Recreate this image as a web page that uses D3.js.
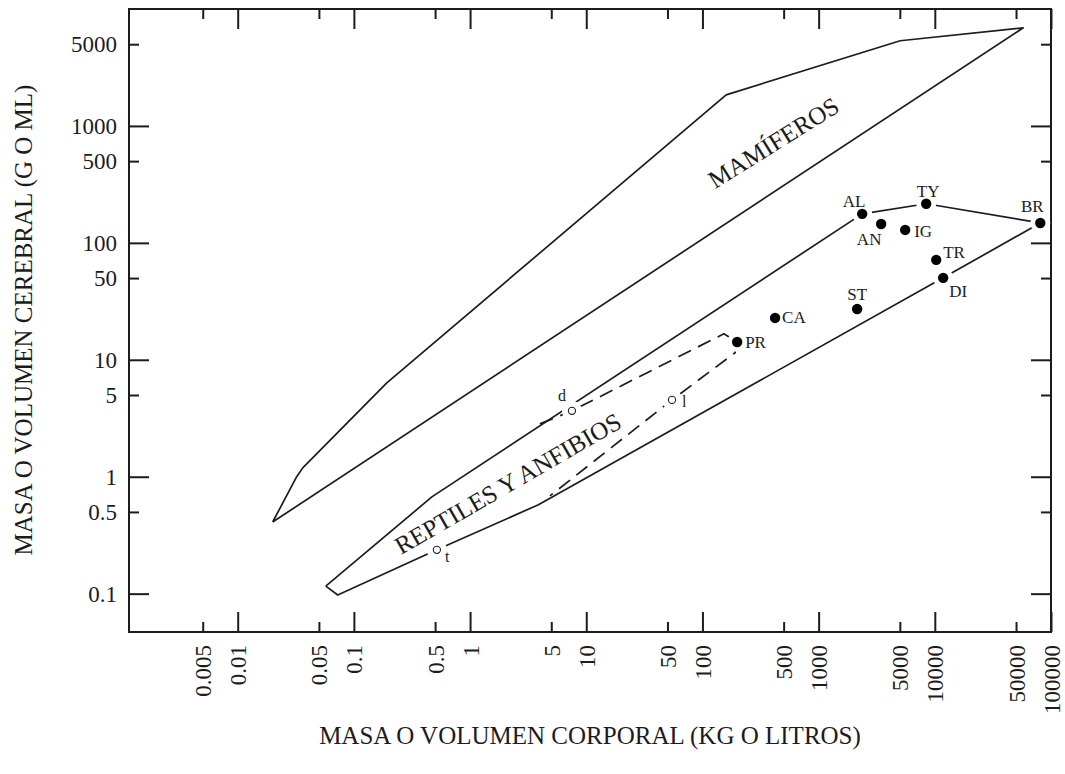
<!DOCTYPE html>
<html>
<head>
<meta charset="utf-8">
<script src="https://cdn.jsdelivr.net/npm/d3@7"></script>
<style>
  body { margin: 0; background: #fff; }
  svg { display: block; font-family: "Liberation Serif", "Times New Roman", serif; }
</style>
</head>
<body>
<svg id="chart" width="1065" height="774"></svg>
<script>
// Brain mass vs body mass, log-log - redrawn with D3

// 1) Data

// axis ticks (values and their labels)
var xTicks = [0.005, 0.01, 0.05, 0.1, 0.5, 1, 5, 10, 50, 100, 500, 1000, 5000, 10000, 50000, 100000];
var xTickLabels = ["0.005", "0.01", "0.05", "0.1", "0.5", "1", "5", "10", "50", "100", "500", "1000", "5000", "10000", "50000", "100000"];
var yTicks = [0.1, 0.5, 1, 5, 10, 50, 100, 500, 1000, 5000];
var yTickLabels = ["0.1", "0.5", "1", "5", "10", "50", "100", "500", "1000", "5000"];

// mammal envelope (body kg, brain g)
var mammalBody  = [0.02, 0.0322, 0.0363, 0.192, 160, 5035, 57700, 0.02];
var mammalBrain = [0.41, 1.0, 1.19, 6.35, 1845, 5350, 6900, 0.41];

// reptiles & amphibians envelope (solid)
var reptileBody  = [0.0573, 0.469, 2371, 8430, 80900, 11800, 3.84, 0.518, 0.0726, 0.0573];
var reptileBrain = [0.116, 0.672, 177, 216, 148, 50.2, 0.574, 0.237, 0.0975, 0.116];

// dashed envelope (inner)
var dashBody  = [3.99, 7.53, 153, 199, 191, 54.7, 4.87];
var dashBrain = [2.83, 3.66, 16.7, 14.2, 11.5, 4.54, 0.686];

// dinosaurs (filled) and living reptiles (open)
var dinoNames = ["AL", "TY", "BR", "AN", "IG", "TR", "DI", "ST", "CA", "PR"];
var dinoBody  = [2371, 8430, 80900, 3452, 5560, 10280, 11800, 2146, 422, 199];
var dinoBrain = [177, 216, 148, 145, 129, 71.6, 50.2, 27.2, 22.8, 14.2];

var livingNames = ["d", "l", "t"];
var livingBody  = [7.53, 54.7, 0.518];
var livingBrain = [3.66, 4.54, 0.237];


// 2) Scales and frame

var svg = d3.select("#chart");
var ink = "#1c1c1c";

var plotL = 129, plotR = 1051, plotT = 9, plotB = 632;

var x = d3.scaleLog().domain([0.00116, 100000]).range([plotL, plotR]);
var y = d3.scaleLog().domain([0.047, 10000]).range([plotB, plotT]);

var isMajor = function (d) {
   var l = Math.log10(d);
   return Math.abs(l - Math.round(l)) < 1e-9;
};

// frame
svg.append("rect")
   .attr("x", plotL).attr("y", plotT)
   .attr("width", plotR - plotL).attr("height", plotB - plotT)
   .attr("fill", "none").attr("stroke", ink).attr("stroke-width", 2);

// draw one side of ticks, ticks point inward, minor ones are half as long
var drawAxis = function (axisFn, scale, values, labels, pos, attrName, sign) {
   var g = svg.append("g")
      .attr("transform", pos)
      .call(axisFn(scale)
         .tickValues(values)
         .tickSizeInner(-20)
         .tickSizeOuter(0)
         .tickPadding(12)
         .tickFormat(function (d) { return labels ? labels[values.indexOf(d)] : ""; }));
   g.select(".domain").remove();
   g.selectAll(".tick line")
      .attr("stroke", ink).attr("stroke-width", 2)
      .attr(attrName, function (d) { return sign * (isMajor(d) ? 20 : 10); });
   g.attr("font-family", null).attr("font-size", 23);
   g.selectAll(".tick text").attr("fill", ink);
   return g;
};

var bottomAxis = drawAxis(d3.axisBottom, x, xTicks, xTickLabels, "translate(0," + plotB + ")", "y2", -1);
drawAxis(d3.axisTop, x, xTicks, null, "translate(0," + plotT + ")", "y2", 1);
drawAxis(d3.axisLeft, y, yTicks, yTickLabels, "translate(" + plotL + ",0)", "x2", 1);
drawAxis(d3.axisRight, y, yTicks, null, "translate(" + plotR + ",0)", "x2", -1);

// x labels stand upright
bottomAxis.selectAll(".tick text")
   .attr("transform", "rotate(-90)")
   .attr("text-anchor", "end")
   .attr("x", -13).attr("y", 0)
   .attr("dy", "0.35em");

// axis titles
svg.append("text")
   .attr("transform", "translate(32,320) rotate(-90)")
   .attr("text-anchor", "middle")
   .attr("font-size", 25).attr("fill", ink)
   .text("MASA O VOLUMEN CEREBRAL (G O ML)");

svg.append("text")
   .attr("x", 590).attr("y", 744)
   .attr("text-anchor", "middle")
   .attr("font-size", 25).attr("fill", ink)
   .text("MASA O VOLUMEN CORPORAL (KG O LITROS)");


// 3) Envelopes

var line = d3.line()
   .x(function (d) { return x(d[0]); })
   .y(function (d) { return y(d[1]); });

var zip = function (a, b) { return a.map(function (v, i) { return [v, b[i]]; }); };

svg.append("path")
   .attr("d", line(zip(mammalBody, mammalBrain)))
   .attr("fill", "none").attr("stroke", ink).attr("stroke-width", 1.7)
   .attr("stroke-linejoin", "round");

svg.append("path")
   .attr("d", line(zip(reptileBody, reptileBrain)))
   .attr("fill", "none").attr("stroke", ink).attr("stroke-width", 1.7)
   .attr("stroke-linejoin", "round");

svg.append("path")
   .attr("d", line(zip(dashBody, dashBrain)))
   .attr("fill", "none").attr("stroke", ink).attr("stroke-width", 1.7)
   .attr("stroke-dasharray", "14,8");

// region names
svg.append("text")
   .attr("transform", "translate(" + x(447) + "," + y(623) + ") rotate(-32)")
   .attr("text-anchor", "middle")
   .attr("font-size", 25).attr("fill", ink)
   .text("MAMÍFEROS");

svg.append("text")
   .attr("transform", "translate(" + x(2.3) + "," + y(0.755) + ") rotate(-30)")
   .attr("text-anchor", "middle")
   .attr("font-size", 25).attr("fill", ink)
   .text("REPTILES Y ANFIBIOS");


// 4) Points

var dinos = dinoNames.map(function (n, i) { return { name: n, bx: dinoBody[i], by: dinoBrain[i] }; });
var living = livingNames.map(function (n, i) { return { name: n, bx: livingBody[i], by: livingBrain[i] }; });

// white halo so the outlines stop short of the markers
svg.selectAll(".halo")
   .data(dinos.concat(living))
   .enter().append("circle")
   .attr("cx", function (d) { return x(d.bx); })
   .attr("cy", function (d) { return y(d.by); })
   .attr("r", 10)
   .attr("fill", "#fff");

svg.selectAll(".dino")
   .data(dinos)
   .enter().append("circle")
   .attr("cx", function (d) { return x(d.bx); })
   .attr("cy", function (d) { return y(d.by); })
   .attr("r", 5.2)
   .attr("fill", "#000");

svg.selectAll(".living")
   .data(living)
   .enter().append("circle")
   .attr("cx", function (d) { return x(d.bx); })
   .attr("cy", function (d) { return y(d.by); })
   .attr("r", 3.6)
   .attr("fill", "#fff").attr("stroke", ink).attr("stroke-width", 1.1);

// label placement around each marker: [dx, dy, anchor]
var labelPos = {
   AL: [-8, -7, "middle"], TY: [2, -7, "middle"], BR: [-8, -11, "middle"],
   AN: [-12, 21, "middle"], IG: [9, 7, "start"], TR: [7, -2, "start"],
   DI: [6, 19, "start"], ST: [0, -9, "middle"], CA: [7, 5, "start"],
   PR: [8, 6, "start"], d: [-10, -10, "middle"], l: [10, 7, "start"], t: [8, 12, "start"]
};

svg.selectAll(".lab")
   .data(dinos.concat(living))
   .enter().append("text")
   .attr("x", function (d) { return x(d.bx) + labelPos[d.name][0]; })
   .attr("y", function (d) { return y(d.by) + labelPos[d.name][1]; })
   .attr("text-anchor", function (d) { return labelPos[d.name][2]; })
   .attr("font-size", function (d) { return d.name.length > 1 ? 17 : 16; })
   .attr("fill", ink)
   .text(function (d) { return d.name; });
</script>
</body>
</html>
